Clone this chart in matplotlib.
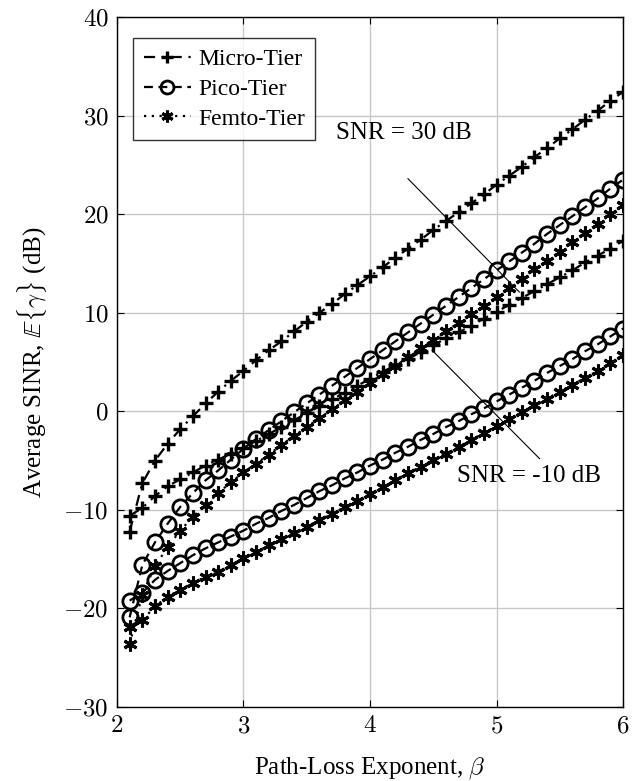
import numpy as np
import matplotlib
matplotlib.use("Agg")
import matplotlib.pyplot as plt

plt.rcParams['font.family'] = ['Liberation Serif', 'DejaVu Serif']
plt.rcParams['mathtext.fontset'] = 'cm'

beta = [round(2.1 + 0.1 * i, 1) for i in range(40)]

micro_30 = [-12.2, -7.3, -5.0, -3.3, -1.8, -0.5, 0.8, 2.0, 3.1, 4.1,
            5.2, 6.2, 7.1, 8.1, 9.1, 10.0, 10.9, 11.9, 12.8, 13.7,
            14.6, 15.6, 16.5, 17.4, 18.4, 19.3, 20.2, 21.1, 22.0, 23.0,
            23.9, 24.8, 25.8, 26.7, 27.7, 28.6, 29.6, 30.5, 31.5, 32.4]
micro_m10 = [-10.6, -9.8, -8.6, -7.6, -6.9, -6.2, -5.5, -4.9, -4.3, -3.7,
             -3.0, -2.3, -1.6, -0.9, -0.2, 0.5, 1.2, 1.9, 2.6, 3.3,
             4.0, 4.7, 5.3, 6.0, 6.7, 7.4, 8.0, 8.7, 9.4, 10.1,
             10.8, 11.5, 12.2, 12.9, 13.6, 14.3, 15.1, 15.8, 16.5, 17.3]
pico_30 = [-20.9, -15.6, -13.3, -11.4, -9.7, -8.3, -7.0, -6.0, -4.9, -3.8,
           -2.8, -1.9, -1.0, -0.1, 0.8, 1.7, 2.6, 3.5, 4.4, 5.3,
           6.2, 7.1, 8.0, 8.9, 9.8, 10.7, 11.6, 12.5, 13.4, 14.3,
           15.2, 16.1, 17.0, 18.0, 18.9, 19.8, 20.7, 21.6, 22.6, 23.5]
pico_m10 = [-19.2, -18.4, -17.1, -16.2, -15.4, -14.6, -13.9, -13.3, -12.7, -12.1,
            -11.4, -10.8, -10.1, -9.5, -8.8, -8.1, -7.5, -6.8, -6.2, -5.5,
            -4.9, -4.2, -3.6, -2.9, -2.3, -1.6, -1.0, -0.3, 0.3, 1.0,
            1.7, 2.4, 3.1, 3.9, 4.6, 5.3, 6.1, 6.8, 7.6, 8.4]
femto_30 = [-23.6, -18.6, -15.7, -13.8, -12.1, -10.7, -9.5, -8.3, -7.2, -6.2,
            -5.3, -4.4, -3.4, -2.5, -1.6, -0.7, 0.2, 1.1, 2.0, 2.9,
            3.8, 4.6, 5.5, 6.4, 7.2, 8.1, 9.0, 9.9, 10.7, 11.6,
            12.5, 13.4, 14.4, 15.3, 16.2, 17.2, 18.1, 19.0, 20.0, 20.9]
femto_m10 = [-21.9, -21.2, -19.8, -18.8, -18.1, -17.4, -16.8, -16.3, -15.6, -14.9,
             -14.3, -13.6, -13.0, -12.3, -11.7, -11.0, -10.4, -9.7, -9.1, -8.4,
             -7.7, -7.0, -6.3, -5.6, -4.9, -4.3, -3.6, -2.9, -2.2, -1.5,
             -0.8, -0.1, 0.6, 1.3, 2.0, 2.7, 3.4, 4.1, 4.9, 5.7]

tier_labels = ["Micro-Tier", "Pico-Tier", "Femto-Tier"]
xticks = [2, 3, 4, 5, 6]
yticks = [-30, -20, -10, 0, 10, 20, 30, 40]

# annotation: text position and pointer line endpoints (data coords)
ann_30_text = (4.27, 28.2)
ann_30_line = ([4.30, 5.18], [23.6, 12.1])
ann_m10_text = (5.26, -6.6)
ann_m10_line = ([4.49, 5.34], [6.2, -4.8])

fig = plt.figure(figsize=(6.41, 7.81), dpi=100)
ax = fig.add_axes([0.1825, 0.0947, 0.7895, 0.8835])

fs = 18
lw = 1.6
styles = [
    dict(ls=(0, (5, 3, 1, 3)), marker='+', ms=10, mew=2.4),
    dict(ls=(0, (4, 2.5)), marker='o', ms=11, mfc='none', mew=2.0),
    dict(ls=(0, (1, 2.5)), marker=(6, 2, 0), ms=10, mew=2.2),
]

series = [(micro_30, micro_m10), (pico_30, pico_m10), (femto_30, femto_m10)]
for (s30, sm10), st, lab in zip(series, styles, tier_labels):
    ax.plot(beta, s30, color='black', lw=lw, label=lab, **st)
    ax.plot(beta, sm10, color='black', lw=lw, **st)

ax.set_xlim(2, 6)
ax.set_ylim(-30, 40)
ax.set_xticks(xticks)
ax.set_yticks(yticks)
ax.set_xticklabels([f"${t}$" for t in xticks], fontsize=fs)
ax.set_yticklabels([f"${t}$" for t in yticks], fontsize=fs)
ax.tick_params(direction='in', length=5, width=0.8, pad=6)
ax.tick_params(top=True, right=True)
ax.grid(True, color='#c8c8c8', lw=1.0)
ax.set_axisbelow(True)
for sp in ax.spines.values():
    sp.set_linewidth(1.0)

ax.set_xlabel(r"Path-Loss Exponent, $\beta$", fontsize=fs, labelpad=13)
ax.set_ylabel(r"Average SINR, $\mathbb{E}\{\gamma\}$ (dB)", fontsize=fs, labelpad=10)

ax.plot(*ann_30_line, color='black', lw=0.8)
ax.text(*ann_30_text, "SNR = 30 dB", fontsize=fs, ha='center', va='center')
ax.plot(*ann_m10_line, color='black', lw=0.8)
ax.text(*ann_m10_text, "SNR = -10 dB", fontsize=fs, ha='center', va='center')

leg = ax.legend(loc='upper left', fontsize=17, frameon=True, fancybox=False,
                edgecolor='black', handlelength=2.0, handletextpad=0.3,
                borderpad=0.45, labelspacing=0.35, markerscale=0.85,
                borderaxespad=0, bbox_to_anchor=(0.032, 0.9696))
leg.get_frame().set_linewidth(1.0)

fig.savefig("out.png", dpi=100)
